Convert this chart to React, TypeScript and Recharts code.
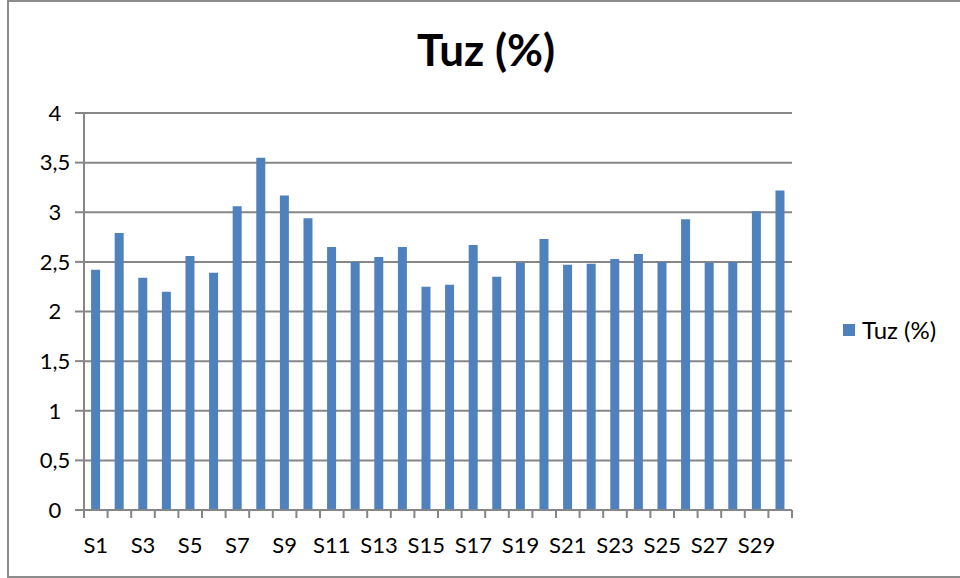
import React from "react";
import { BarChart, Bar, XAxis, YAxis, CartesianGrid, Legend } from "recharts";

const categories = [
  "S1","S2","S3","S4","S5","S6","S7","S8","S9","S10",
  "S11","S12","S13","S14","S15","S16","S17","S18","S19","S20",
  "S21","S22","S23","S24","S25","S26","S27","S28","S29","S30",
];
const tuzValues = [
  2.42, 2.79, 2.34, 2.2, 2.56, 2.39, 3.06, 3.55, 3.17, 2.94,
  2.65, 2.5, 2.55, 2.65, 2.25, 2.27, 2.67, 2.35, 2.49, 2.73,
  2.47, 2.48, 2.53, 2.58, 2.5, 2.93, 2.49, 2.5, 3.01, 3.22,
];
const yTicks = [0, 0.5, 1, 1.5, 2, 2.5, 3, 3.5, 4];
const seriesName = "Tuz (%)";
const titleText = "Tuz (%)";

const data = categories.map((name, i) => ({ name, value: tuzValues[i] }));

const FONT = "Lato, 'Open Sans', sans-serif";
const GRAY = "#868686";
const BLUE = "#4F81BD";
const LEGEND_W = 110;

const XTick = (props: any) => {
  const { x, y, payload, index } = props;
  const half = payload && typeof payload.offset === "number" && payload.offset > 0 ? payload.offset : 11.8;
  const showLabel = index % 2 === 0;
  const last = index === categories.length - 1;
  return (
    <g>
      <line x1={x - half} x2={x - half} y1={y} y2={y + 8} stroke={GRAY} strokeWidth={2} />
      {last && <line x1={x + half} x2={x + half} y1={y} y2={y + 8} stroke={GRAY} strokeWidth={2} />}
      {showLabel && (
        <text x={x} y={y + 43} textAnchor="middle" fontFamily={FONT} fontSize={22} fill="#000">
          {payload.value}
        </text>
      )}
    </g>
  );
};

const LegendContent = () => (
  <div style={{ display: "flex", alignItems: "center", fontFamily: FONT, fontSize: 24, color: "#000", whiteSpace: "nowrap" }}>
    <span style={{ display: "inline-block", width: 12, height: 12, background: BLUE, marginRight: 7 }} />
    <span>{seriesName}</span>
  </div>
);

export default function App() {
  return (
    <div style={{ position: "absolute", left: 0, top: 0, width: 960, height: 578, overflow: "hidden", background: "#fff" }}>
      <div
        style={{
          position: "absolute",
          left: 7,
          top: 0,
          width: 980,
          height: 578,
          boxSizing: "border-box",
          borderLeft: "2px solid #8c8c8c",
          borderTop: "2px solid #8c8c8c",
          borderBottom: "2px solid #8c8c8c",
        }}
      />
      <svg width={960} height={100} style={{ position: "absolute", left: 0, top: 0 }}>
        <text x={486} y={66} textAnchor="middle" fontFamily={FONT} fontWeight={700} fontSize={44} fill="#000">
          {titleText}
        </text>
      </svg>
      <div style={{ position: "absolute", left: 0, top: 0 }}>
        <BarChart
          width={960}
          height={578}
          data={data}
          margin={{ top: 113, right: 168 - LEGEND_W, bottom: 0, left: 24 }}
          barCategoryGap="30%"
        >
          <CartesianGrid horizontal vertical={false} stroke={GRAY} strokeWidth={2} />
          <XAxis
            dataKey="name"
            interval={0}
            height={68}
            tickLine={false}
            tickSize={0}
            tickMargin={0}
            axisLine={{ stroke: GRAY, strokeWidth: 2 }}
            tick={<XTick />}
          />
          <YAxis
            domain={[0, 4]}
            ticks={yTicks}
            width={60}
            tickSize={9}
            tickMargin={20}
            interval={0}
            axisLine={{ stroke: GRAY, strokeWidth: 2 }}
            tickLine={{ stroke: GRAY, strokeWidth: 2 }}
            tick={{ fontFamily: FONT, fontSize: 22, fill: "#000", textAnchor: "middle" }}
            tickFormatter={(v: number) => String(v).replace(".", ",")}
          />
          <Legend
            layout="horizontal"
            verticalAlign="middle"
            align="right"
            content={<LegendContent />}
            wrapperStyle={{ left: 843, top: 315, width: LEGEND_W }}
          />
          <Bar dataKey="value" name={seriesName} fill={BLUE} isAnimationActive={false} />
        </BarChart>
      </div>
    </div>
  );
}
